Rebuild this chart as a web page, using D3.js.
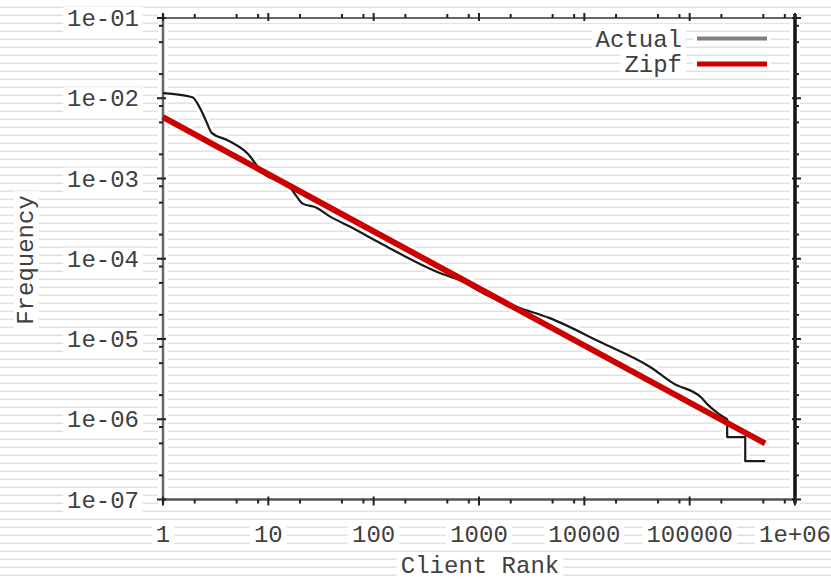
<!DOCTYPE html>
<html>
<head>
<meta charset="utf-8">
<script src="https://cdn.jsdelivr.net/npm/d3@7"></script>
<style>
  html, body { margin: 0; padding: 0; background: #fff; }
  svg { display: block; }
  text { font-family: "Liberation Mono", "DejaVu Sans Mono", monospace; fill: #404040; }
</style>
</head>
<body>
<svg id="chart" width="831" height="579"></svg>
<script>
// Client request frequency by rank, with a fitted Zipf power law
const actualRank = [1, 1.9, 2.25, 2.6, 2.9, 4.1, 6.3, 8.9, 16, 18.7, 21, 29, 38, 60, 115, 430, 660,
  1200, 2300, 4700, 14300, 42500, 70000, 128000, 150000, 181000, 227000, 227000, 337000, 337000, 520000];
const actualFreq = [1.16e-2, 1.03e-2, 7.5e-3, 5.0e-3, 3.7e-3, 3.0e-3, 2.07e-3, 1.17e-3, 7.8e-4, 5.9e-4,
  4.9e-4, 4.3e-4, 3.4e-4, 2.5e-4, 1.57e-4, 6.6e-5, 5.4e-5, 3.5e-5, 2.5e-5, 1.82e-5, 9.1e-6, 4.45e-6,
  2.8e-6, 1.88e-6, 1.5e-6, 1.22e-6, 1.0e-6, 6.0e-7, 6.0e-7, 3.0e-7, 3.0e-7];

const zipfRank = [1, 520000];
const zipfFreq = [5.8e-3, 5.0e-7];

const xTickValues = [1, 10, 100, 1000, 10000, 100000, 1000000];
const xTickLabels = ["1", "10", "100", "1000", "10000", "100000", "1e+06"];
const yTickValues = [1e-7, 1e-6, 1e-5, 1e-4, 1e-3, 1e-2, 1e-1];
const yTickLabels = ["1e-07", "1e-06", "1e-05", "1e-04", "1e-03", "1e-02", "1e-01"];
const minorMultiples = [2, 5, 8];

const seriesNames = ["Actual", "Zipf"];
const seriesColors = ["#7f7f7f", "#cc0000"];

const W = 831, H = 579;
const plot = { left: 163, right: 795, top: 18, bottom: 499.5 };

const svg = d3.select("#chart");

// scan-line background
const defs = svg.append("defs");
const pat = defs.append("pattern").attr("id", "lines")
  .attr("patternUnits", "userSpaceOnUse").attr("width", 8).attr("height", 8);
pat.append("rect").attr("width", 8).attr("height", 8).attr("fill", "#fff");
pat.append("rect").attr("y", 6.5).attr("width", 8).attr("height", 1.6).attr("fill", "#e2e2e2");
svg.append("rect").attr("width", W).attr("height", H).attr("fill", "url(#lines)");

const x = d3.scaleLog().domain([1, 1e6]).range([plot.left, plot.right]);
const y = d3.scaleLog().domain([1e-7, 1e-1]).range([plot.bottom, plot.top]);

const haloLayer = svg.append("g");
const lineLayer = svg.append("g");
const textLayer = svg.append("g");

// text with a white backing box
function label(txt, px, py, anchor, rotate) {
  const g = textLayer.append("g").attr("transform", `translate(${px},${py})` + (rotate ? ` rotate(${rotate})` : ""));
  const t = g.append("text").attr("text-anchor", anchor).attr("font-size", 24).text(txt);
  const b = t.node().getBBox();
  g.insert("rect", "text").attr("x", b.x - 4).attr("y", b.y + 1).attr("width", b.width + 8)
    .attr("height", b.height - 2).attr("fill", "#fff");
  return g;
}

// frame halo
haloLayer.append("rect").attr("x", plot.left).attr("y", plot.top)
  .attr("width", plot.right - plot.left).attr("height", plot.bottom - plot.top)
  .attr("fill", "none").attr("stroke", "#fff").attr("stroke-width", 10);

// frame
const frame = lineLayer.append("g");
frame.append("line").attr("x1", plot.left).attr("x2", plot.right).attr("y1", plot.top).attr("y2", plot.top)
  .attr("stroke", "#333").attr("stroke-width", 1.5);
frame.append("line").attr("x1", plot.left).attr("x2", plot.right + 1).attr("y1", plot.bottom).attr("y2", plot.bottom)
  .attr("stroke", "#555").attr("stroke-width", 2.5);
frame.append("line").attr("x1", plot.left).attr("x2", plot.left).attr("y1", plot.top - 4).attr("y2", plot.bottom + 4)
  .attr("stroke", "#666").attr("stroke-width", 2.5);
frame.append("line").attr("x1", plot.right).attr("x2", plot.right).attr("y1", plot.top - 4).attr("y2", plot.bottom + 4)
  .attr("stroke", "#111").attr("stroke-width", 3.5);

// ticks (major and minor) on all four sides
const xMinor = [], yMinor = [];
xTickValues.slice(0, -1).forEach(v => minorMultiples.forEach(m => xMinor.push(v * m)));
yTickValues.slice(0, -1).forEach(v => minorMultiples.forEach(m => yMinor.push(v * m)));

const tk = lineLayer.append("g").attr("stroke", "#222").attr("stroke-width", 2);
xTickValues.forEach(v => {
  tk.append("line").attr("x1", x(v)).attr("x2", x(v)).attr("y1", plot.bottom - 3).attr("y2", plot.bottom + 6);
  tk.append("line").attr("x1", x(v)).attr("x2", x(v)).attr("y1", plot.top - 5).attr("y2", plot.top + 3);
});
xMinor.forEach(v => {
  tk.append("line").attr("x1", x(v)).attr("x2", x(v)).attr("y1", plot.bottom).attr("y2", plot.bottom + 4);
  tk.append("line").attr("x1", x(v)).attr("x2", x(v)).attr("y1", plot.top - 4).attr("y2", plot.top);
});
yTickValues.forEach(v => {
  tk.append("line").attr("x1", plot.left - 6).attr("x2", plot.left + 3).attr("y1", y(v)).attr("y2", y(v));
  tk.append("line").attr("x1", plot.right - 3).attr("x2", plot.right + 6).attr("y1", y(v)).attr("y2", y(v));
});
yMinor.forEach(v => {
  tk.append("line").attr("x1", plot.left - 4).attr("x2", plot.left).attr("y1", y(v)).attr("y2", y(v));
  tk.append("line").attr("x1", plot.right).attr("x2", plot.right + 4).attr("y1", y(v)).attr("y2", y(v));
});

// series: smooth body of the rank curve, then the stepped tail where counts are single digits
const actualData = actualRank.map((r, i) => [r, actualFreq[i]]);
const tailStart = actualRank.findIndex((r, i) => i > 0 && r === actualRank[i - 1]) - 1;
const bodyData = actualData.slice(0, tailStart + 1);
const tailData = actualData.slice(tailStart);
const zipfData = zipfRank.map((r, i) => [r, zipfFreq[i]]);
const smooth = d3.line().x(d => x(d[0])).y(d => y(d[1])).curve(d3.curveMonotoneX);
const line = d3.line().x(d => x(d[0])).y(d => y(d[1]));
const actualPath = smooth(bodyData) + line(tailData).replace(/^M/, "L");

haloLayer.append("path").attr("d", actualPath).attr("fill", "none")
  .attr("stroke", "#fff").attr("stroke-width", 8).attr("stroke-linejoin", "round");
haloLayer.append("path").attr("d", line(zipfData)).attr("fill", "none")
  .attr("stroke", "#fff").attr("stroke-width", 11);

lineLayer.append("path").attr("d", actualPath).attr("fill", "none")
  .attr("stroke", "#1a1a1a").attr("stroke-width", 2.2).attr("stroke-linejoin", "round");
lineLayer.append("path").attr("d", line(zipfData)).attr("fill", "none")
  .attr("stroke", seriesColors[1]).attr("stroke-width", 6);

// tick labels
yTickValues.forEach((v, i) => label(yTickLabels[i], 139, y(v) + 8, "end"));
xTickValues.forEach((v, i) => label(xTickLabels[i], x(v), 542, "middle"));

// axis titles
label("Client Rank", 480, 573, "middle");
label("Frequency", 33, 260, "middle", -90);

// legend
const legY = [38.5, 64];
const legWidths = [4, 5];
seriesNames.forEach((name, i) => {
  label(name, 682, legY[i] + 8, "end");
  haloLayer.append("line").attr("x1", 693).attr("x2", 771).attr("y1", legY[i]).attr("y2", legY[i])
    .attr("stroke", "#fff").attr("stroke-width", 10);
  lineLayer.append("line").attr("x1", 697).attr("x2", 767).attr("y1", legY[i]).attr("y2", legY[i])
    .attr("stroke", seriesColors[i]).attr("stroke-width", legWidths[i]);
});
</script>
</body>
</html>
